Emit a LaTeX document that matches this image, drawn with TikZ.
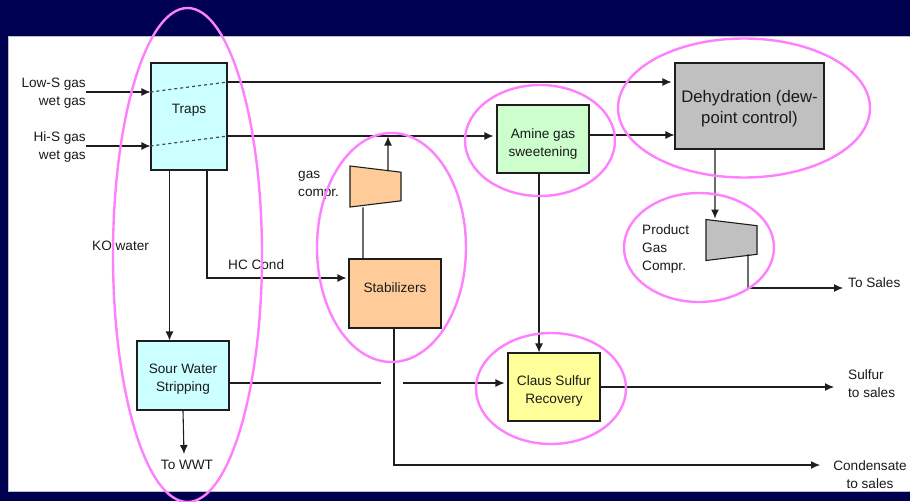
\documentclass[tikz,border=0pt]{standalone}
\usepackage{fontspec}
\setmainfont{Liberation Sans}
\usetikzlibrary{arrows.meta,shapes.geometric}
\definecolor{navy}{HTML}{000050}
\definecolor{ringpink}{HTML}{FF80FF}
\definecolor{linegray}{HTML}{1E1E1E}
\definecolor{txtgray}{HTML}{1A1A1A}
\tikzset{
 txt/.style={font=\fontsize{13.6}{18}\selectfont,text=txtgray,inner sep=0pt,align=center},
 txtl/.style={txt,align=left,anchor=west},
 txtr/.style={txt,align=right,anchor=east},
 box/.style={draw=linegray,line width=1.1pt,inner sep=0pt},
 comp/.style={box,trapezium,trapezium stretches=true,trapezium angle=77.8,shape border rotate=270,text width=1pt,text height=1pt,minimum width=41pt,minimum height=51pt},
 ring/.style={ellipse,draw=ringpink,line width=2.4pt,inner sep=0pt},
 flow/.style={draw=linegray,line width=1.1pt,-{Latex[length=9pt,width=8pt]}},
 pipe/.style={draw=linegray,line width=1.1pt},
 dashln/.style={draw=linegray!80,line width=1.2pt,dashed}
}
\begin{document}
\begin{tikzpicture}[x=1pt,y=-1pt]
 \useasboundingbox (0,0) rectangle (910,501);
 \fill [navy](0,0) rectangle (910,501);
 \draw [black!25,line width=0.6pt,fill=white](8,36) rectangle (911,491);
 \node[box,fill={rgb,255:red,204;green,255;blue,255},minimum width=76pt,minimum height=107pt,label={[txt,yshift=6.5pt]center:Traps}] (traps) at (189,116.5) {};
 \node[box,fill={rgb,255:red,204;green,255;blue,255},minimum width=92pt,minimum height=69pt,label={[txt,yshift=-4pt]center:Sour Water\\Stripping}] (sour) at (183,375.5) {};
 \node[box,fill={rgb,255:red,255;green,204;blue,153},minimum width=92pt,minimum height=69pt,label={[txt,yshift=6pt]center:Stabilizers}] (stab) at (395,293.5) {};
 \node[box,fill={rgb,255:red,204;green,255;blue,204},minimum width=92pt,minimum height=68pt,label={[txt,yshift=-4.5pt]center:Amine gas\\sweetening}] (amine) at (543,139) {};
 \node[box,fill={rgb,255:red,255;green,255;blue,153},minimum width=92pt,minimum height=68pt,label={[txt,yshift=-4pt]center:Claus Sulfur\\Recovery}] (claus) at (554,387) {};
 \node[box,fill={rgb,255:red,192;green,192;blue,192},minimum width=149pt,minimum height=86pt,label={[txt,font=\fontsize{16.7}{21}\selectfont,yshift=-3pt]center:Dehydration (dew-\\point control)}] (dehyd) at (749.5,106) {};
 \node[comp,fill={rgb,255:red,255;green,204;blue,153}] (gas) at (375.5,186.5) {};
 \node[comp,fill={rgb,255:red,192;green,192;blue,192}] (prod) at (731.5,240) {};
 \node[txtr] (lows) at (86,93) {Low-S gas\\wet gas};
 \node[txtr] (his) at (86,147) {Hi-S gas\\wet gas};
 \node[txtl] (ko) at (92,246) {KO water};
 \node[txtl] (hc) at (228,265) {HC Cond};
 \node[txtl] (gaslab) at (298,185) {gas\\compr.};
 \node[txtl] (prodlab) at (642,248.5) {Product\\Gas\\Compr.};
 \node[txtl] (sales) at (848,283) {To Sales};
 \node[txtl] (sulfur) at (848,383.5) {Sulfur\\to sales};
 \node[txt] (cond) at (870,475) {Condensate\\to sales};
 \node[txt] (wwt) at (187,465) {To WWT};
 \coordinate (gapl) at (381,383);
 \coordinate (gapr) at (403,383);
 \coordinate (gasout) at (388,136.5);
 \coordinate (salesend) at (843,288);
 \coordinate (sulfurend) at (834,387);
 \coordinate (condend) at (820,465);
 \coordinate (wwtend) at (184,454);
 \draw[flow] (lows.east |- 0,92) -- ([yshift=24.5pt]traps.west);
 \draw[flow] (his.east |- 0,146) -- ([yshift=-29.5pt]traps.west);
 \draw[dashln] ([yshift=24.5pt]traps.west) -- ([yshift=34.5pt]traps.east);
 \draw[dashln] ([yshift=-29.5pt]traps.west) -- ([yshift=-19.5pt]traps.east);
 \draw[flow,shorten >=3pt] ([yshift=34.5pt]traps.east) -- ([yshift=24pt]dehyd.west);
 \draw[flow,shorten >=3pt] ([yshift=-19.5pt]traps.east) -- ([yshift=3pt]amine.west);
 \draw[flow] ([yshift=4pt]amine.east) -- ([yshift=-29pt]dehyd.west);
 \draw[flow] ([xshift=-19.5pt]traps.south) -- ([xshift=-13.5pt]sour.north);
 \draw[flow,shorten >=2pt] ([xshift=18pt]traps.south) |- ([yshift=15.5pt]stab.west);
 \draw[pipe] ([xshift=-32pt]stab.north) -- ([xshift=-12.5pt,yshift=-3pt]gas.south);
 \draw[flow] ([xshift=12.5pt,yshift=-2.7pt]gas.north) -- (gasout);
 \draw[flow] ([xshift=-4pt]amine.south) -- ([xshift=-15pt]claus.north);
 \draw[flow] ([xshift=-34.5pt]dehyd.south) -- ([xshift=-16.5pt,yshift=3.5pt]prod.north);
 \draw[pipe] ([xshift=16.5pt,yshift=3.5pt]prod.south) -- (748,288);
 \draw[flow] (748,288) -- (salesend);
 \draw[pipe] (sour.east |- gapl) -- (gapl);
 \draw[flow,shorten >=3pt] (gapr) -- (claus.west |- gapr);
 \draw[flow] (claus.east) -- (sulfurend);
 \draw[flow] ([xshift=-1pt]stab.south) |- (condend);
 \draw[flow] (sour.south) -- (wwtend);
 \node[ring,minimum width=149pt,minimum height=494pt] (r1) at (187.5,255) {};
 \node[ring,minimum width=149pt,minimum height=229pt] (r2) at (391.5,247.5) {};
 \node[ring,minimum width=150pt,minimum height=111pt] (r3) at (540,140.5) {};
 \node[ring,minimum width=252pt,minimum height=139pt] (r4) at (744,108) {};
 \node[ring,minimum width=150pt,minimum height=109pt] (r5) at (699,247.5) {};
 \node[ring,minimum width=150pt,minimum height=111pt] (r6) at (551,388.5) {};
\end{tikzpicture}
\end{document}
